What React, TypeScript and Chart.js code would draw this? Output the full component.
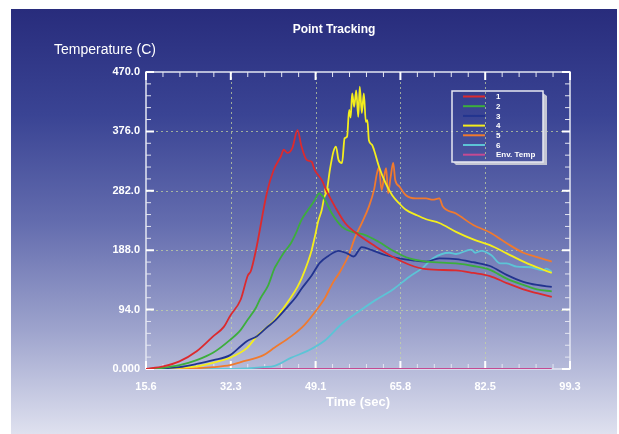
import React, { useEffect, useRef } from "react";
import { Chart, registerables } from "chart.js";

Chart.register(...registerables);

const FONT = "'Liberation Sans', Arial, Helvetica, sans-serif";

const TITLE = "Point Tracking";
const Y_TITLE = "Temperature (C)";
const X_TITLE = "Time (sec)";

const xTickValues = [15.6, 32.34, 49.08, 65.82, 82.56, 99.3];
const xTickLabels = ["15.6", "32.3", "49.1", "65.8", "82.5", "99.3"];
const yTickValues = [0, 94, 188, 282, 376, 470];
const yTickLabels = ["0.000", "94.0", "188.0", "282.0", "376.0", "470.0"];

const seriesNames = ["1", "2", "3", "4", "5", "6", "Env. Temp"];
const seriesColors = ["#dc2a2e", "#3cae3c", "#22348f", "#f4ee1c", "#f07a2e", "#5cc4d6", "#c44a92"];

// Series 1 (red)
const time1 = [15.6, 19.0, 22.2, 25.6, 28.9, 31.0, 32.2, 34.3, 35.7, 36.3, 37.3, 39.5, 40.8, 42.2, 42.8, 43.5, 44.5, 45.5, 46.3, 47.3, 48.3, 48.9, 50.3, 51.3, 52.9, 54.9, 57.6, 60.9, 64.2, 67.6, 70.9, 76.8, 80.2, 83.5, 86.8, 90.1, 92.8, 95.7];
const temp1 = [0, 4, 12, 28, 52, 67, 84, 110, 148, 155, 188, 280, 315, 336, 347, 342, 350, 378, 352, 331, 328, 315, 299, 281, 257, 231, 212, 194, 178, 165, 158, 156, 152, 147, 136, 126, 120, 114];

// Series 2 (green)
const time2 = [15.6, 19.0, 22.2, 25.6, 28.9, 32.2, 34.3, 35.5, 37.3, 38.2, 39.7, 41.0, 41.5, 42.8, 44.2, 45.2, 46.3, 47.6, 48.9, 49.8, 50.6, 52.3, 54.3, 56.3, 58.9, 61.6, 64.2, 67.6, 70.9, 76.8, 80.2, 83.5, 86.8, 90.1, 92.8, 95.7];
const temp2 = [0, 2, 6, 14, 26, 46, 62, 76, 97, 112, 132, 160, 167, 184, 199, 215, 236, 252, 267, 278, 272, 246, 225, 217, 212, 201, 188, 175, 170, 167, 163, 157, 143, 133, 126, 123];

// Series 3 (navy)
const time3 = [15.6, 19.0, 22.2, 25.6, 28.9, 32.2, 34.3, 35.5, 37.5, 39.5, 41.0, 43.5, 45.2, 46.3, 48.3, 49.9, 51.6, 53.6, 55.3, 56.6, 58.2, 60.2, 62.9, 65.6, 68.2, 70.9, 73.5, 76.8, 80.2, 83.5, 86.8, 90.1, 92.8, 95.7];
const temp3 = [0, 1, 3, 8, 14, 22, 36, 44, 52, 66, 76, 98, 114, 127, 148, 168, 179, 187, 183, 178, 193, 188, 180, 175, 172, 170, 175, 174, 169, 163, 149, 138, 133, 130];

// Series 4 (yellow)
const time4 = [15.6, 20.0, 25.6, 28.9, 32.2, 35.5, 37.7, 40.8, 42.8, 44.2, 45.5, 46.3, 47.6, 48.3, 48.9, 49.6, 50.3, 50.8, 51.3, 51.9, 52.6, 53.1, 53.6, 54.3, 54.8, 55.3, 55.7, 56.0, 56.3, 56.7, 57.1, 57.5, 57.8, 58.2, 58.6, 59.0, 59.3, 59.6, 60.2, 60.6, 61.6, 62.9, 64.2, 65.6, 66.9, 68.9, 70.9, 73.5, 76.8, 80.2, 83.5, 86.8, 90.1, 92.8, 95.7];
const temp4 = [0, 1, 4, 10, 18, 33, 54, 76, 97, 113, 130, 143, 170, 188, 208, 234, 252, 272, 282, 315, 344, 352, 331, 326, 365, 368, 410, 398, 436, 415, 441, 399, 447, 405, 436, 391, 394, 362, 355, 347, 320, 294, 275, 262, 252, 244, 237, 231, 217, 205, 196, 183, 170, 161, 152];
const yellowMarkIndex = 18;

// Series 5 (orange)
const time5 = [15.6, 25.0, 28.9, 32.2, 34.3, 38.8, 41.0, 44.3, 46.9, 49.6, 50.9, 52.3, 53.9, 55.6, 56.9, 58.2, 59.6, 60.6, 61.2, 61.6, 62.1, 62.6, 63.0, 63.4, 63.9, 64.4, 64.8, 65.6, 66.9, 68.9, 70.9, 72.2, 73.5, 74.2, 76.8, 80.2, 83.5, 86.8, 90.1, 92.8, 95.7];
const temp5 = [0, 1, 3, 6, 11, 22, 34, 52, 70, 97, 112, 134, 154, 180, 209, 231, 257, 283, 310, 319, 283, 304, 318, 278, 304, 326, 299, 289, 275, 270, 270, 268, 270, 257, 246, 228, 216, 199, 184, 177, 170];

// Series 6 (cyan)
const time6 = [15.6, 30.0, 35.5, 38.8, 41.0, 44.3, 47.6, 50.9, 54.3, 57.6, 60.9, 64.2, 67.6, 70.2, 72.2, 75.5, 76.8, 79.8, 80.6, 81.8, 83.8, 85.5, 86.8, 88.8, 91.5, 94.1, 94.6, 95.7];
const temp6 = [0, 0, 1, 3, 5, 18, 29, 45, 72, 91, 109, 125, 146, 160, 175, 184, 182, 189, 184, 187, 180, 167, 167, 162, 161, 156, 159, 154];

// Env. Temp (magenta)
const time7 = [15.6, 95.7];
const temp7 = [0, 0];

const seriesTimes = [time1, time2, time3, time4, time5, time6, time7];
const seriesTemps = [temp1, temp2, temp3, temp4, temp5, temp6, temp7];

const bgPlugin = {
  id: "panelBg",
  beforeDraw(chart: any) {
    const { ctx, width, height } = chart;
    ctx.save();
    ctx.fillStyle = "#ffffff";
    ctx.fillRect(0, 0, width, height);
    const g = ctx.createLinearGradient(0, 9, 0, height);
    g.addColorStop(0, "#282c7c");
    g.addColorStop(0.25, "#3a4494");
    g.addColorStop(0.5, "#636cae");
    g.addColorStop(0.75, "#9ca2cc");
    g.addColorStop(1, "#dfe1ef");
    ctx.fillStyle = g;
    ctx.fillRect(11, 9, 606, height - 9);
    ctx.fillStyle = "#ffffff";
    ctx.textAlign = "center";
    ctx.textBaseline = "middle";
    ctx.font = `bold 12px ${FONT}`;
    ctx.fillText(TITLE, 334, 30);
    ctx.textAlign = "left";
    ctx.font = `14px ${FONT}`;
    ctx.fillText(Y_TITLE, 54, 50);
    ctx.restore();
  },
};

const framePlugin = {
  id: "frameTicks",
  beforeDatasetsDraw(chart: any) {
    const { ctx, chartArea: a, scales } = chart;
    const xs = scales.x;
    const ys = scales.y;
    ctx.save();
    ctx.strokeStyle = "rgba(200,215,160,0.7)";
    ctx.lineWidth = 1;
    ctx.setLineDash([2, 3]);
    xTickValues.slice(1, -1).forEach((v) => {
      const px = Math.round(xs.getPixelForValue(v)) + 0.5;
      ctx.beginPath();
      ctx.moveTo(px, a.top);
      ctx.lineTo(px, a.bottom);
      ctx.stroke();
    });
    yTickValues.slice(1, -1).forEach((v) => {
      const py = Math.round(ys.getPixelForValue(v)) + 0.5;
      ctx.beginPath();
      ctx.moveTo(a.left, py);
      ctx.lineTo(a.right, py);
      ctx.stroke();
    });
    ctx.setLineDash([]);
    ctx.strokeStyle = "#e4e6f2";
    ctx.lineWidth = 1.5;
    ctx.strokeRect(a.left, a.top, a.right - a.left, a.bottom - a.top);
    const drawX = (v: number, len: number) => {
      const px = xs.getPixelForValue(v);
      ctx.beginPath();
      ctx.moveTo(px, a.top);
      ctx.lineTo(px, a.top + len);
      ctx.moveTo(px, a.bottom);
      ctx.lineTo(px, a.bottom - len);
      ctx.stroke();
    };
    const drawY = (v: number, len: number) => {
      const py = ys.getPixelForValue(v);
      ctx.beginPath();
      ctx.moveTo(a.left, py);
      ctx.lineTo(a.left + len, py);
      ctx.moveTo(a.right, py);
      ctx.lineTo(a.right - len, py);
      ctx.stroke();
    };
    ctx.strokeStyle = "#e4e6f2";
    ctx.lineWidth = 1;
    for (let i = 0; i < xTickValues.length - 1; i++) {
      const step = (xTickValues[i + 1] - xTickValues[i]) / 5;
      for (let k = 1; k < 5; k++) drawX(xTickValues[i] + k * step, 5);
    }
    for (let i = 0; i < yTickValues.length - 1; i++) {
      const step = (yTickValues[i + 1] - yTickValues[i]) / 5;
      for (let k = 1; k < 5; k++) drawY(yTickValues[i] + k * step, 5);
    }
    ctx.strokeStyle = "#ffffff";
    ctx.lineWidth = 2;
    xTickValues.forEach((v) => drawX(v, 8));
    yTickValues.forEach((v) => drawY(v, 8));
    ctx.restore();
  },
};

const legendPlugin = {
  id: "boxLegend",
  afterDraw(chart: any) {
    const { ctx } = chart;
    const x0 = 452;
    const y0 = 91;
    const w = 91;
    const h = 71;
    ctx.save();
    ctx.fillStyle = "#c4c6d4";
    ctx.beginPath();
    ctx.moveTo(x0 + w, y0 + 2);
    ctx.lineTo(x0 + w + 4, y0 + 5);
    ctx.lineTo(x0 + w + 4, y0 + h + 3);
    ctx.lineTo(x0 + 4, y0 + h + 3);
    ctx.lineTo(x0 + 1, y0 + h);
    ctx.lineTo(x0 + w, y0 + h);
    ctx.closePath();
    ctx.fill();
    ctx.strokeStyle = "#e6e8f2";
    ctx.lineWidth = 1.5;
    ctx.strokeRect(x0, y0, w, h);
    ctx.font = `bold 8px ${FONT}`;
    ctx.textAlign = "left";
    ctx.textBaseline = "middle";
    chart.data.datasets.forEach((ds: any, i: number) => {
      const y = y0 + 5.5 + i * 9.7;
      ctx.strokeStyle = ds.borderColor;
      ctx.lineWidth = 2;
      ctx.beginPath();
      ctx.moveTo(463, y);
      ctx.lineTo(485, y);
      ctx.stroke();
      ctx.fillStyle = "#ffffff";
      ctx.fillText(ds.label, 496, y + 0.5);
    });
    ctx.restore();
  },
};

export default function App() {
  const ref = useRef<HTMLCanvasElement>(null);
  useEffect(() => {
    const datasets = seriesNames.map((name, s) => ({
      label: name,
      data: seriesTimes[s].map((t, i) => ({ x: t, y: seriesTemps[s][i] })),
      borderColor: seriesColors[s],
      backgroundColor: seriesColors[s],
      borderWidth: 1.8,
      pointRadius: s === 3 ? (c: any) => (c.dataIndex === yellowMarkIndex ? 3.5 : 0) : 0,
      pointStyle: "rect",
      pointBorderWidth: 0,
      cubicInterpolationMode: "monotone",
      fill: false,
    }));
    const chart = new Chart(ref.current as HTMLCanvasElement, {
      type: "line",
      data: { datasets } as any,
      options: {
        animation: false,
        responsive: true,
        maintainAspectRatio: false,
        layout: { padding: { top: 72, right: 49, left: 0, bottom: 0 } },
        plugins: {
          legend: { display: false },
          tooltip: { enabled: false },
          title: { display: false },
        },
        scales: {
          x: {
            type: "linear",
            min: 15.6,
            max: 99.3,
            afterBuildTicks: (s: any) => {
              s.ticks = xTickValues.map((v) => ({ value: v }));
            },
            afterFit: (s: any) => {
              s.height = 65;
            },
            ticks: {
              callback: (_v: any, i: number) => xTickLabels[i],
              color: "#ffffff",
              font: { family: FONT, size: 11, weight: "bold" },
              padding: 11,
              maxRotation: 0,
              autoSkip: false,
            },
            grid: { display: false, drawTicks: false },
            border: { display: false },
            title: {
              display: true,
              text: X_TITLE,
              color: "#ffffff",
              font: { family: FONT, size: 13, weight: "bold" },
              padding: { top: 0, bottom: 24 },
            },
          },
          y: {
            type: "linear",
            min: 0,
            max: 470,
            afterBuildTicks: (s: any) => {
              s.ticks = yTickValues.map((v) => ({ value: v }));
            },
            afterFit: (s: any) => {
              s.width = 146;
            },
            ticks: {
              callback: (_v: any, i: number) => yTickLabels[i],
              color: "#ffffff",
              font: { family: FONT, size: 11, weight: "bold" },
              padding: 6,
              autoSkip: false,
            },
            grid: { display: false, drawTicks: false },
            border: { display: false },
          },
        },
      } as any,
      plugins: [bgPlugin, framePlugin, legendPlugin],
    });
    return () => chart.destroy();
  }, []);
  return (
    <div style={{ position: "fixed", left: 0, top: 0, width: 619, height: 434 }}>
      <canvas ref={ref} />
    </div>
  );
}
